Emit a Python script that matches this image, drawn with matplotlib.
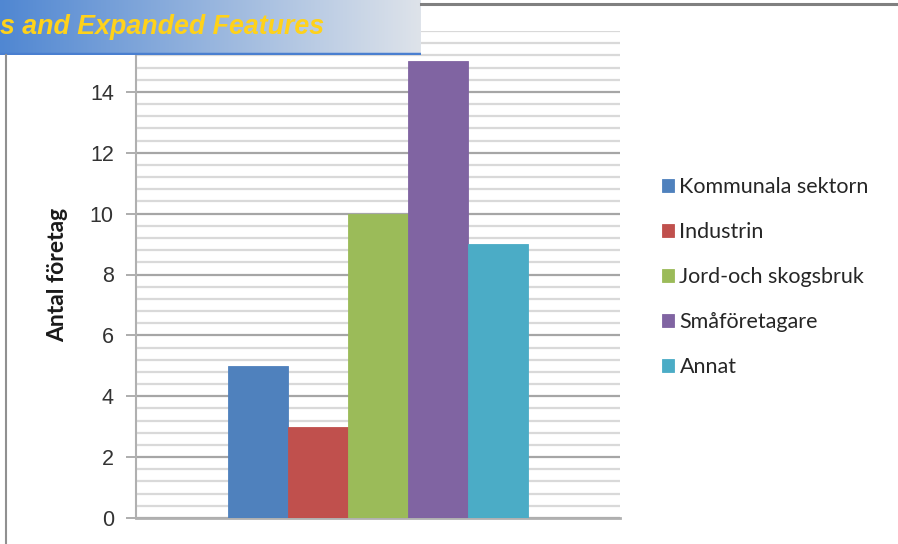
import numpy as np
import matplotlib.pyplot as plt
from matplotlib.lines import Line2D
from matplotlib.ticker import MultipleLocator

categories = ["Kommunala sektorn", "Industrin", "Jord-och skogsbruk", "Småföretagare", "Annat"]
values = [5, 3, 10, 15, 9]
colors = ["#4f81bd", "#c0504d", "#9bbb59", "#8064a2", "#4bacc6"]
ylabel = "Antal företag"
banner_text = "s and Expanded Features"

W, H = 898, 544
fig = plt.figure(figsize=(W / 100, H / 100), dpi=100)
fig.patch.set_facecolor("white")

# chart area
ax = fig.add_axes([136 / W, 26 / H, 484 / W, 487 / H])
n = len(values)
bw = 0.124
xs = (np.arange(n) - (n - 1) / 2) * bw
for x, v, c, lab in zip(xs, values, colors, categories):
    ax.bar(x, v, width=bw, color=c, edgecolor=c, linewidth=0.6, label=lab, zorder=3)

ax.set_xlim(-0.5, 0.5)
ax.set_ylim(0, 16)
ax.yaxis.set_major_locator(MultipleLocator(2))
ax.yaxis.set_minor_locator(MultipleLocator(0.4))
ax.set_yticks(np.arange(0, 15, 2))
ax.grid(which="major", axis="y", color="#a6a6a6", linewidth=1.6, zorder=0)
ax.grid(which="minor", axis="y", color="#d9d9d9", linewidth=1.6, zorder=0)
ax.set_xticks([])
for s in ["top", "right"]:
    ax.spines[s].set_visible(False)
ax.spines["left"].set_color("#b0b0b0")
ax.spines["left"].set_linewidth(1.5)
ax.spines["bottom"].set_color("#b0b0b0")
ax.spines["bottom"].set_linewidth(2)
ax.tick_params(axis="y", which="major", length=7, width=1.2, color="#a0a0a0",
               pad=9, labelsize=15.5, labelcolor="#333333")
ax.tick_params(axis="y", which="minor", length=0)
for t in ax.get_yticklabels():
    t.set_fontfamily("Liberation Sans")

fig.text(58 / W, 1 - 275 / H, ylabel, rotation=90, ha="center", va="center",
         fontsize=16.5, fontweight="bold", family="Lato", color="#1a1a1a")

ax.legend(loc="upper left", bbox_to_anchor=(662 / W, 1 - 177 / H),
          bbox_transform=fig.transFigure, frameon=False, borderpad=0,
          borderaxespad=0, prop={"family": "Lato", "size": 15.5},
          handlelength=0.56, handleheight=0.56, handletextpad=0.25,
          labelspacing=1.16, labelcolor="#262626")

# title banner in the corner
bax = fig.add_axes([0, 1 - 55 / H, 421 / W, 55 / H])
grad = np.linspace(0, 1, 256)
left = np.array([80, 135, 210]) / 255
right = np.array([222, 227, 234]) / 255
img = left[None, :] * (1 - grad[:, None]) + right[None, :] * grad[:, None]
bax.imshow(img[None, :, :], aspect="auto", extent=[0, 1, 0, 1])
bax.axhline(0.02, color="#4a7fd0", linewidth=2.5)
bax.text(0.0, 0.38, banner_text, transform=bax.transAxes, ha="left", va="baseline",
         fontsize=19.3, fontweight="bold", fontstyle="italic", family="Liberation Sans",
         color="#ffd21a")
bax.set_xlim(0, 1)
bax.set_ylim(0, 1)
bax.axis("off")

# slide frame lines
fig.add_artist(Line2D([421 / W, 1], [1 - 4 / H, 1 - 4 / H], transform=fig.transFigure,
                      color="#808080", linewidth=2.2))
fig.add_artist(Line2D([6 / W, 6 / W], [0, 1 - 55 / H], transform=fig.transFigure,
                      color="#909090", linewidth=1.5))

fig.savefig("out.png", dpi=100)
